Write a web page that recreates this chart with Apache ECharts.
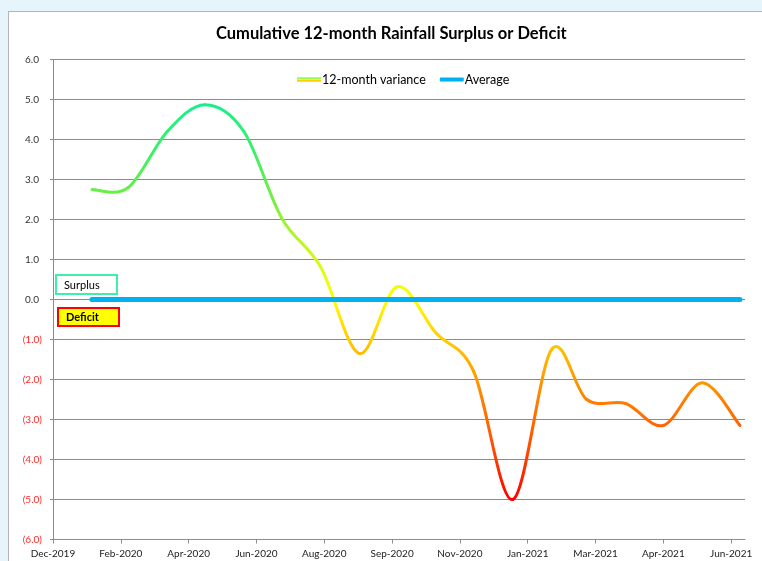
<!DOCTYPE html>
<html>
<head>
<meta charset="UTF-8">
<title>Cumulative 12-month Rainfall Surplus or Deficit</title>
<style>
    body { margin: 0; background: #e6f4fc; }
    #panel {
        position: absolute;
        left: 8px;
        top: 11px;
        width: 760px;
        height: 560px;
        background: #fff;
        border: 1px solid #b4b4b4;
    }
    #chartArea {
        position: absolute;
        left: 0;
        top: 0;
        width: 762px;
        height: 561px;
    }
</style>
</head>
<body>
<div id="panel"></div>
<div id="chartArea"></div>
<script src="https://cdn.jsdelivr.net/npm/echarts@6/dist/echarts.min.js"></script>
<script>
// date axis: day 0 is the first tick, one tick every 54 days
var axisStart = '2019-12-31';
var tickStep = 54;
var axisEnd = 551;
var tickLabels = ['Dec-2019', 'Feb-2020', 'Apr-2020', 'Jun-2020', 'Aug-2020', 'Sep-2020',
                  'Nov-2020', 'Jan-2021', 'Mar-2021', 'Apr-2021', 'Jun-2021'];

var monthEnds = ['2020-01-31', '2020-02-29', '2020-03-31', '2020-04-30', '2020-05-31', '2020-06-30',
                 '2020-07-31', '2020-08-31', '2020-09-30', '2020-10-31', '2020-11-30', '2020-12-31',
                 '2021-01-31', '2021-02-28', '2021-03-31', '2021-04-30', '2021-05-31', '2021-06-30'];
var variance = [2.75, 2.8, 4.2, 4.87, 4.2, 2.04, 0.82, -1.35, 0.32, -0.84, -1.8, -5.0,
                -1.25, -2.5, -2.6, -3.15, -2.08, -3.15];
var average = [0, 0, 0, 0, 0, 0, 0, 0, 0, 0, 0, 0, 0, 0, 0, 0, 0, 0];

var FONT = 'Lato';
// line colour by value, from +5 (top) down to -5
var rampColors = ['#12f08e', '#3af068', '#70f040', '#c8f820', '#ffff00',
                  '#ffbf00', '#ff8000', '#ff4a00', '#ff0000'];

function dayOf(d) {
    return (Date.parse(d) - Date.parse(axisStart)) / 86400000;
}
function pairs(vals) {
    return monthEnds.map(function (d, i) { return [dayOf(d), vals[i]]; });
}

// excel style smoothed line: one catmull-rom bezier per segment
function renderVariance(params, api) {
    var i = params.dataIndex;
    var n = variance.length;
    if (i >= n - 1) return;
    var pt = function (k) {
        k = Math.max(0, Math.min(n - 1, k));
        return api.coord([dayOf(monthEnds[k]), variance[k]]);
    };
    var p0 = pt(i - 1), p1 = pt(i), p2 = pt(i + 1), p3 = pt(i + 2);
    var top = api.coord([0, 5])[1];
    var bot = api.coord([0, -5])[1];
    var stops = rampColors.map(function (c, k) {
        return { offset: k / (rampColors.length - 1), color: c };
    });
    return {
        type: 'bezierCurve',
        shape: {
            x1: p1[0], y1: p1[1],
            x2: p2[0], y2: p2[1],
            cpx1: p1[0] + (p2[0] - p0[0]) / 6, cpy1: p1[1] + (p2[1] - p0[1]) / 6,
            cpx2: p2[0] - (p3[0] - p1[0]) / 6, cpy2: p2[1] - (p3[1] - p1[1]) / 6
        },
        style: {
            fill: null,
            stroke: new echarts.graphic.LinearGradient(0, top, 0, bot, stops, true),
            lineWidth: 3,
            lineCap: 'round'
        }
    };
}

var myChart = echarts.init(document.getElementById('chartArea'));
myChart.setOption({
    backgroundColor: 'transparent',
    textStyle: { fontFamily: FONT },
    title: {
        text: 'Cumulative 12-month Rainfall Surplus or Deficit',
        left: 211,
        top: 20,
        textStyle: { fontFamily: FONT, fontSize: 16.5, fontWeight: 'bold', color: '#000' }
    },
    legend: {
        top: 68,
        left: 292,
        itemWidth: 24,
        itemHeight: 4,
        itemGap: 14,
        textStyle: { fontFamily: FONT, fontSize: 12.5, color: '#000', padding: [0, 0, 0, -4] },
        data: [{
            name: '12-month variance',
            icon: 'rect',
            itemStyle: {
                color: new echarts.graphic.LinearGradient(0, 0, 0, 1, [
                    { offset: 0, color: '#33f59a' },
                    { offset: 0.5, color: '#ffff00' },
                    { offset: 1, color: '#ffa000' }
                ])
            }
        }, {
            name: 'Average',
            icon: 'roundRect',
            itemStyle: { color: '#00b0f0' }
        }]
    },
    grid: { left: 53, right: 17, top: 59.5, bottom: 21.5 },
    xAxis: {
        type: 'value',
        min: 0,
        max: axisEnd,
        interval: tickStep,
        splitLine: { show: false },
        axisLine: { onZero: false, lineStyle: { color: '#8c8c8c' } },
        axisTick: { length: 4, lineStyle: { color: '#8c8c8c' } },
        axisLabel: {
            margin: 9,
            fontSize: 10,
            color: '#222',
            showMaxLabel: false,
            formatter: function (v) {
                var i = v / tickStep;
                return i % 1 === 0 ? tickLabels[i] : '';
            }
        }
    },
    yAxis: {
        type: 'value',
        min: -6,
        max: 6,
        interval: 1,
        axisLine: { show: true, lineStyle: { color: '#8c8c8c' } },
        axisTick: { show: true, length: 3, lineStyle: { color: '#8c8c8c' } },
        splitLine: { lineStyle: { color: '#8c8c8c', width: 1 } },
        axisLabel: {
            margin: 11,
            fontSize: 10,
            color: '#333',
            formatter: function (v) {
                if (v < 0) return '{neg|(' + Math.abs(v).toFixed(1) + ')}';
                return '{pos|' + v.toFixed(1) + '}';
            },
            rich: {
                neg: { color: '#ff2a2a', fontSize: 10, fontFamily: FONT },
                pos: { color: '#333', fontSize: 10, fontFamily: FONT, padding: [0, 3, 0, 0] }
            }
        }
    },
    graphic: [
        { type: 'rect', shape: { x: 56, y: 275, width: 61, height: 19 },
          style: { fill: '#fff', stroke: '#3df0a8', lineWidth: 2 } },
        { type: 'text', x: 64, y: 285, style: { text: 'Surplus', fill: '#000',
          font: '11px ' + FONT, verticalAlign: 'middle' } },
        { type: 'rect', shape: { x: 58, y: 308, width: 61, height: 18 },
          style: { fill: '#ffff00', stroke: '#ff0000', lineWidth: 2 } },
        { type: 'text', x: 66, y: 317.5, style: { text: 'Deficit', fill: '#000',
          font: 'bold 11px ' + FONT, verticalAlign: 'middle' } }
    ],
    series: [{
        name: '12-month variance',
        type: 'custom',
        renderItem: renderVariance,
        encode: { x: 0, y: 1 },
        data: pairs(variance)
    }, {
        name: 'Average',
        type: 'line',
        showSymbol: false,
        symbol: 'none',
        color: '#00b0f0',
        lineStyle: { width: 5, color: '#00b0f0', cap: 'round' },
        data: pairs(average)
    }]
});
</script>
</body>
</html>
